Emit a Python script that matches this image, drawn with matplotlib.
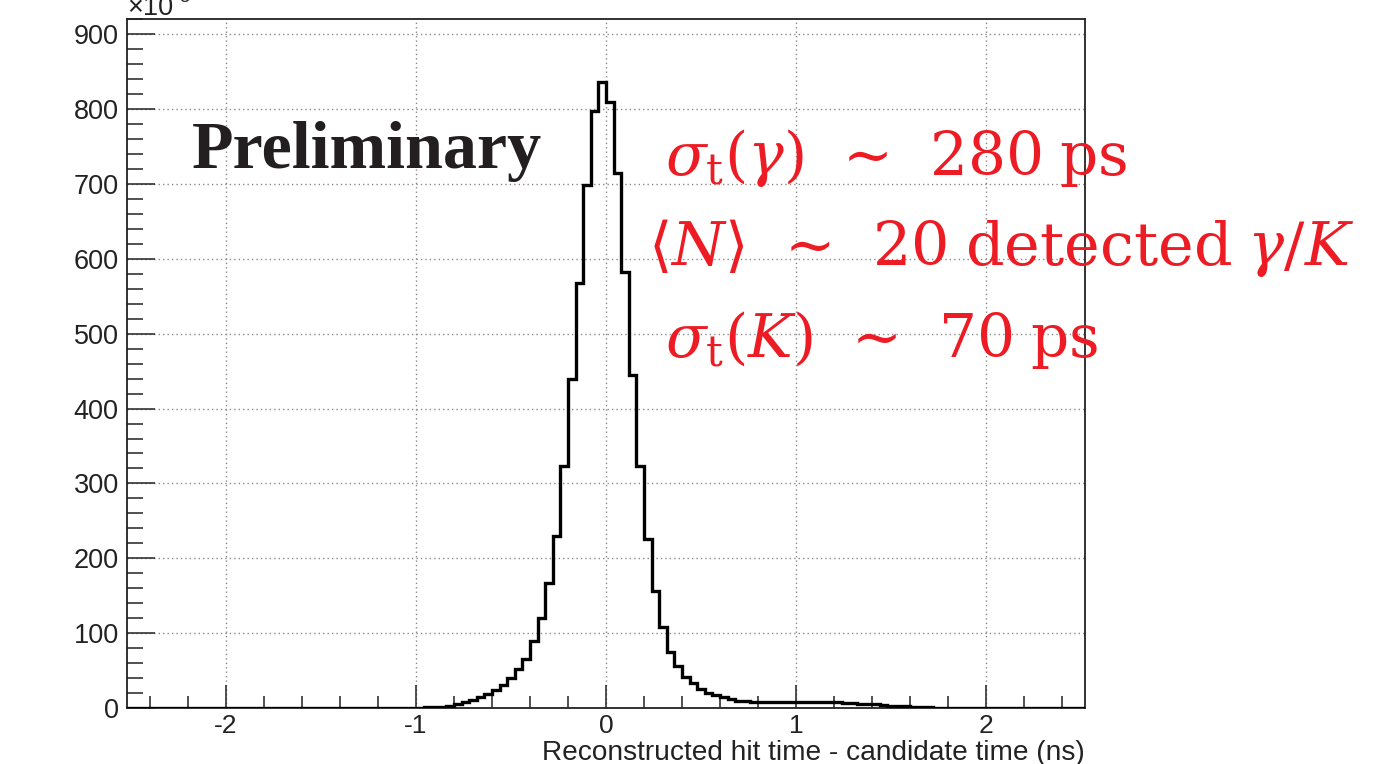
import numpy as np
import matplotlib
matplotlib.use("Agg")
import matplotlib.pyplot as plt

# ---------------- data (counts in units of 10^3) ----------------
bin_lo = -2.52
bin_hi = 2.52
n_bins = 126

counts_left_zero = [0.0] * 38          # -2.52 .. -1.00
counts_rise = [0.5, 1.0, 1.5, 2.0, 3.0, 5.3, 7.6, 10.7, 14.3, 18.7,
               24, 31, 40, 52, 66, 89, 120, 167, 230, 323,
               439, 568, 699, 797, 836]           # -1.00 .. 0.00
counts_fall = [809, 715, 583, 445, 323, 226, 156, 108, 75, 56,
               42, 33, 25.4, 20.5, 17, 14.3, 11.6, 9.8, 8.8, 8.2]  # 0.00 .. 0.80
counts_plateau = [8, 8, 8, 8, 8, 8, 7.8, 7.8, 7.6, 7.5, 7.4, 7.2, 7.0,
                  5.2, 5.0, 4.8, 3.6, 3.3, 2.4, 2.2, 2.0, 1.8, 1.6]  # 0.80 .. 1.72
counts_right_tail = [0.4, 0.4, 0.35, 0.35, 0.3, 0.3, 0.3, 0.25, 0.25, 0.2,
                     0.2, 0.2, 0.15, 0.15, 0.15, 0.1, 0.1, 0.1, 0.1, 0.1]  # 1.72 .. 2.52

counts = np.array(counts_left_zero + counts_rise + counts_fall +
                  counts_plateau + counts_right_tail, dtype=float)
edges = np.linspace(bin_lo, bin_hi, n_bins + 1)

y_major = np.arange(0, 901, 100)
x_major = [-2, -1, 0, 1, 2]

xlabel = "Reconstructed hit time - candidate time (ns)"
prelim_text = "Preliminary"
red_lines = [r"$\sigma_{\mathrm{t}}(\gamma)\;\,\sim\;\,280\;\mathrm{ps}$",
             r"$\langle N\rangle\;\,\sim\;\,20\;\mathrm{detected}\;\gamma/K$",
             r"$\sigma_{\mathrm{t}}(K)\;\,\sim\;\,70\;\mathrm{ps}$"]

# ---------------- style ----------------
plt.rcParams['font.family'] = ['Liberation Sans', 'DejaVu Sans']
plt.rcParams['mathtext.fontset'] = 'dejavuserif'
plt.rcParams['axes.unicode_minus'] = False

W, H = 1373, 764
fig = plt.figure(figsize=(W / 100, H / 100), dpi=100)
ax_l, ax_r, ax_b, ax_t = 127, 1085, 708, 19.3
ax = fig.add_axes([ax_l / W, 1 - ax_b / H, (ax_r - ax_l) / W, (ax_b - ax_t) / H])

ax.stairs(counts, edges, color='black', linewidth=2.4, zorder=4, baseline=None)

ax.set_xlim(bin_lo, bin_hi)
ax.set_ylim(0, 1.1 * counts.max())

ax.set_xticks(x_major)
ax.set_xticks(np.arange(-2.4, 2.41, 0.2), minor=True)
ax.set_yticks(y_major)
ax.set_yticks(np.arange(0, 921, 20), minor=True)

ax.tick_params(axis='both', which='both', direction='in', top=False, right=False,
               colors='#222222', labelsize=19.5)
ax.tick_params(axis='y', which='major', length=20, width=1.1, pad=6.0)
ax.tick_params(axis='y', which='minor', length=11.5, width=1.1)
ax.tick_params(axis='x', which='major', length=16.5, width=1.1, pad=4.5, labelsize=19)
ax.tick_params(axis='x', which='minor', length=8.5, width=1.1)

ax.grid(True, which='major', linestyle=(0, (1, 2.2)), color='#8a8a8a', linewidth=1.0, zorder=1)
ax.set_axisbelow(True)
for s in ax.spines.values():
    s.set_linewidth(1.3)
    s.set_color('#222222')

# x label, right aligned
fig.text(ax_r / W, 1 - 759.5 / H, xlabel, ha='right', va='baseline', fontsize=20.2,
         color='#222222')

# x10^3 label (cut at top, as in the original)
fig.text(ax_l / W, 1 - 15 / H, "\u00d710", ha='left', va='baseline', fontsize=19.5,
         color='#222222')
fig.text((ax_l + 52) / W, 1 - 2 / H, "3", ha='left', va='baseline', fontsize=13,
         color='#222222')

# Preliminary
fig.text(192 / W, 1 - 168.3 / H, prelim_text, ha='left', va='baseline',
         fontsize=49, fontweight='bold', family='Liberation Serif', color='#231f20')

# red annotation
red = '#ed1c24'
fig.text(665 / W, 1 - 175 / H, red_lines[0], ha='left', va='baseline', fontsize=43, color=red)
fig.text(648 / W, 1 - 265 / H, red_lines[1], ha='left', va='baseline', fontsize=43.5, color=red)
fig.text(665 / W, 1 - 357 / H, red_lines[2], ha='left', va='baseline', fontsize=43, color=red)

fig.savefig("out.png", dpi=100)
